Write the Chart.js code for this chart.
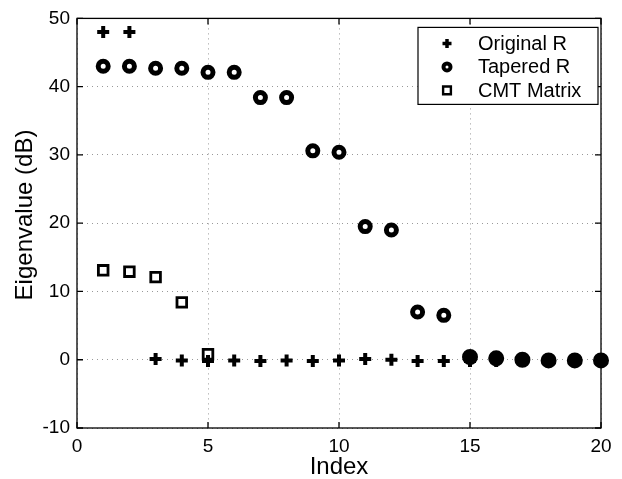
<!doctype html>
<html lang="en">
  <head>
    <meta charset="UTF-8" />
    <meta name="viewport" content="width=device-width, initial-scale=1.0" />
    <script src="https://cdn.jsdelivr.net/npm/chart.js@4.4.1/dist/chart.umd.min.js"></script>
    <style>
      body { margin: 0; background: #fff; }
    </style>
  </head>
  <body>
    <canvas id="eigChart" width="622" height="479"></canvas>

    <script>
      // eigenvalues (dB) sorted by index
      const eigIndex = [1, 2, 3, 4, 5, 6, 7, 8, 9, 10, 11, 12, 13, 14, 15, 16, 17, 18, 19, 20];
      const originalR = [48, 48, 0.1, -0.1, -0.2, -0.1, -0.2, -0.1, -0.2, -0.1, 0.1, 0, -0.2, -0.2, -0.2, -0.2, -0.2, -0.2, -0.2, -0.2];
      const taperedR = [43, 43, 42.7, 42.7, 42.1, 42.1, 38.4, 38.4, 30.6, 30.4, 19.5, 19, 7, 6.5, 0.4, 0.2, 0, -0.1, -0.1, -0.1];
      const cmtIndex = [1, 2, 3, 4, 5];
      const cmtMatrix = [13.1, 12.9, 12.1, 8.4, 0.8];

      const xTicks = [0, 5, 10, 15, 20];
      const yTicks = [-10, 0, 10, 20, 30, 40, 50];

      const pts = (xs, ys) => xs.map((x, i) => ({ x: x, y: ys[i] }));

      const FONT = '"Liberation Sans", Arial, Helvetica, sans-serif';

      // box, inward ticks, axis titles and the legend
      const framePlugin = {
        id: 'framePlugin',
        afterDraw(chart) {
          const { ctx, chartArea: a, scales } = chart;
          const xs = scales.x, ys = scales.y;
          ctx.save();
          ctx.strokeStyle = '#000';
          ctx.lineWidth = 1.3;
          ctx.strokeRect(a.left, a.top, a.right - a.left, a.bottom - a.top);

          const len = 6;
          ctx.beginPath();
          xTicks.forEach(v => {
            const px = xs.getPixelForValue(v);
            ctx.moveTo(px, a.bottom); ctx.lineTo(px, a.bottom - len);
            ctx.moveTo(px, a.top); ctx.lineTo(px, a.top + len);
          });
          yTicks.forEach(v => {
            const py = ys.getPixelForValue(v);
            ctx.moveTo(a.left, py); ctx.lineTo(a.left + len, py);
            ctx.moveTo(a.right, py); ctx.lineTo(a.right - len, py);
          });
          ctx.stroke();

          // axis titles
          ctx.fillStyle = '#000';
          ctx.font = '24px ' + FONT;
          ctx.textAlign = 'center';
          ctx.textBaseline = 'alphabetic';
          ctx.fillText('Index', (a.left + a.right) / 2, 474);
          ctx.save();
          ctx.translate(32, 215);
          ctx.rotate(-Math.PI / 2);
          ctx.fillText('Eigenvalue (dB)', 0, 0);
          ctx.restore();

          // legend box in the top right corner
          const bx = a.right - 183, by = a.top + 9, bw = 180, bh = 77;
          ctx.fillStyle = '#fff';
          ctx.fillRect(bx, by, bw, bh);
          ctx.lineWidth = 1.2;
          ctx.strokeRect(bx, by, bw, bh);

          ctx.font = '20px ' + FONT;
          ctx.textAlign = 'left';
          ctx.textBaseline = 'middle';
          chart.data.datasets.forEach((ds, i) => {
            const ry = by + 16 + i * 23.5;
            ctx.fillStyle = '#fff';
            ctx.strokeStyle = '#000';
            ctx.lineWidth = ds.legendBorder;
            Chart.helpers.drawPoint(ctx, {
              pointStyle: ds.pointStyle,
              radius: ds.legendRadius,
              borderWidth: ds.legendBorder,
              rotation: 0
            }, bx + 29, ry);
            ctx.fillStyle = '#000';
            ctx.fillText(ds.label, bx + 60, ry + 1);
          });
          ctx.restore();
        }
      };

      const ctx = document.getElementById('eigChart').getContext('2d');
      new Chart(ctx, {
        type: 'scatter',
        data: {
          datasets: [
            {
              label: 'Original R',
              data: pts(eigIndex, originalR),
              pointStyle: 'cross',
              pointRadius: 6,
              pointBorderWidth: 4,
              borderColor: '#000',
              backgroundColor: '#000',
              legendRadius: 4.5,
              legendBorder: 3.5,
              clip: false
            },
            {
              label: 'Tapered R',
              data: pts(eigIndex, taperedR),
              pointStyle: 'circle',
              pointRadius: c => (c.raw && c.raw.x >= 15 ? 5.5 : 5),
              pointBorderWidth: 5,
              borderColor: '#000',
              pointBackgroundColor: c => (c.raw && c.raw.x >= 15 ? '#000' : '#fff'),
              legendRadius: 3.5,
              legendBorder: 4,
              clip: false
            },
            {
              label: 'CMT Matrix',
              data: pts(cmtIndex, cmtMatrix),
              pointStyle: 'rect',
              pointRadius: 6.8,
              pointBorderWidth: 2.8,
              borderColor: '#000',
              backgroundColor: '#fff',
              legendRadius: 5.5,
              legendBorder: 2.4,
              clip: false
            }
          ]
        },
        options: {
          responsive: false,
          animation: false,
          events: [],
          layout: { padding: { top: 15, right: 21, left: 0, bottom: 0 } },
          plugins: {
            legend: { display: false },
            tooltip: { enabled: false }
          },
          scales: {
            x: {
              type: 'linear',
              min: 0,
              max: 20,
              afterFit: s => { s.height = 51; },
              afterBuildTicks: s => { s.ticks = xTicks.map(v => ({ value: v })); },
              grid: { color: '#999', lineWidth: 1, drawTicks: false },
              border: { display: false, dash: [1, 4] },
              ticks: { color: '#000', font: { family: FONT, size: 19 }, padding: 7, maxRotation: 0 }
            },
            y: {
              min: -10,
              max: 50,
              afterFit: s => { s.width = 77; },
              afterBuildTicks: s => { s.ticks = yTicks.map(v => ({ value: v })); },
              grid: { color: '#999', lineWidth: 1, drawTicks: false },
              border: { display: false, dash: [1, 4] },
              ticks: { color: '#000', font: { family: FONT, size: 19 }, padding: 7 }
            }
          }
        },
        plugins: [framePlugin]
      });
    </script>
  </body>
</html>
